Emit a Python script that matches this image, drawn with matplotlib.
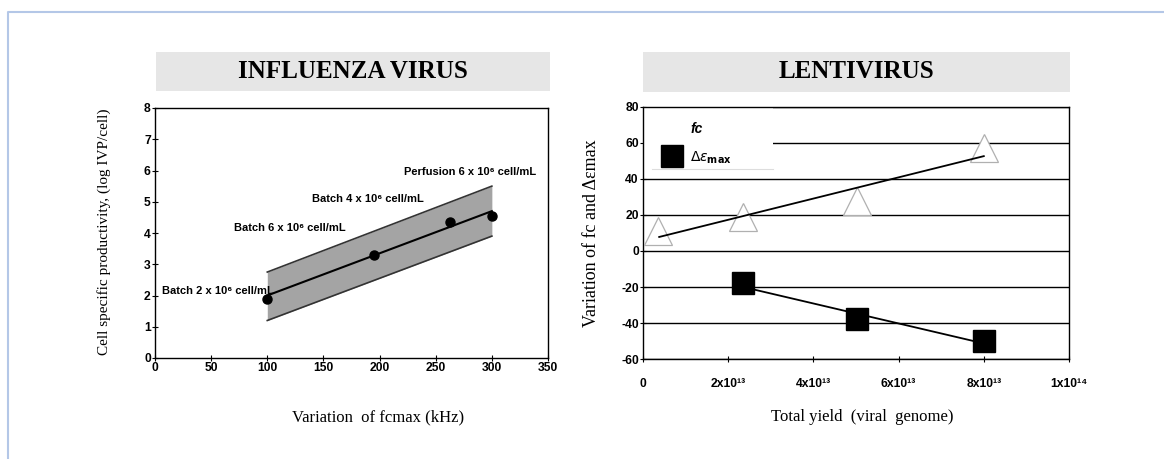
import matplotlib
matplotlib.use("Agg")
import matplotlib.pyplot as plt
from matplotlib.patches import Rectangle
from matplotlib.lines import Line2D

# influenza panel
flu_fcmax = [100, 195, 263, 300]
flu_productivity = [1.9, 3.3, 4.35, 4.55]
flu_fit_x = [100, 300]
flu_fit_y = [2.0, 4.7]
flu_upper_y = [2.75, 5.5]
flu_lower_y = [1.2, 3.9]
flu_labels = ["Batch 2 x 10⁶ cell/mL", "Batch 6 x 10⁶ cell/mL",
              "Batch 4 x 10⁶ cell/mL", "Perfusion 6 x 10⁶ cell/mL"]
flu_label_x = [6, 70, 140, 222]
flu_label_y = [2.15, 4.15, 5.1, 5.95]

# lentivirus panel
lenti_yield_fc = [0.36e13, 2.35e13, 5.03e13, 8.0e13]
lenti_fc = [11, 19, 27.5, 57]
lenti_fc_fit_x = [0.38e13, 8.0e13]
lenti_fc_fit_y = [7.8, 52.7]
lenti_yield_eps = [2.35e13, 5.03e13, 8.0e13]
lenti_eps = [-17.8, -37.6, -49.9]
lenti_eps_fit_x = [2.35e13, 7.9e13]
lenti_eps_fit_y = [-20, -50.8]
lenti_xticks = [0, 2e13, 4e13, 6e13, 8e13, 1e14]
lenti_xticklabels = ["0", "2x10¹³", "4x10¹³", "6x10¹³", "8x10¹³", "1x10¹⁴"]

W, H = 1164, 459
SANS = ["Liberation Sans", "DejaVu Sans"]
SERIF = ["Liberation Serif", "DejaVu Serif"]
plt.rcParams["axes.unicode_minus"] = False


def px_axes(fig, x0, y0, x1, y1):
    return fig.add_axes([x0 / W, 1 - y1 / H, (x1 - x0) / W, (y1 - y0) / H])


def title_box(fig, x0, y0, x1, y1, text):
    fig.patches.append(Rectangle((x0 / W, 1 - y1 / H), (x1 - x0) / W, (y1 - y0) / H,
                                 transform=fig.transFigure, facecolor="#e6e6e6",
                                 edgecolor="none"))
    fig.text((x0 + x1) / 2 / W, 1 - (y0 + y1) / 2 / H, text, ha="center", va="center",
             family=SERIF, fontweight="bold", fontsize=18)


def style_ticks(ax):
    for lab in ax.get_xticklabels() + ax.get_yticklabels():
        lab.set_family(SANS)
        lab.set_fontweight("bold")
        lab.set_fontsize(8.7)
    ax.tick_params(direction="inout", length=4, width=0.8, color="black")
    for s in ax.spines.values():
        s.set_linewidth(1.0)
        s.set_color("black")


fig = plt.figure(figsize=(W / 100, H / 100), dpi=100)

# light blue frame
fig.lines.append(Line2D([8 / W, 8 / W, 1.0], [0.0, 1 - 12 / H, 1 - 12 / H],
                        transform=fig.transFigure, color="#b4c7e7", linewidth=1.5))

title_box(fig, 156, 52, 550, 91, "INFLUENZA VIRUS")
title_box(fig, 643, 52, 1070, 92, "LENTIVIRUS")

# ---- influenza
ax1 = px_axes(fig, 155, 108, 548, 358)
ax1.fill_between(flu_fit_x, flu_lower_y, flu_upper_y, color="#a4a4a4", linewidth=0)
ax1.plot(flu_fit_x, flu_upper_y, color="#333333", linewidth=1.2)
ax1.plot(flu_fit_x, flu_lower_y, color="#333333", linewidth=1.2)
ax1.plot(flu_fit_x, flu_fit_y, color="black", linewidth=1.5)
ax1.plot(flu_fcmax, flu_productivity, "o", color="black", markersize=6.5)
for t, x, y in zip(flu_labels, flu_label_x, flu_label_y):
    ax1.text(x, y, t, family=SANS, fontweight="bold", fontsize=8, va="center")
ax1.set_xlim(0, 350)
ax1.set_ylim(0, 8)
ax1.set_xticks(range(0, 351, 50))
ax1.set_yticks(range(0, 9))
style_ticks(ax1)
ax1.tick_params(pad=1)

fig.text(104 / W, 1 - 232 / H, "Cell specific productivity, (log IVP/cell)",
         rotation=90, ha="center", va="center", family=SERIF, fontsize=11)
fig.text(378 / W, 1 - 417 / H, "Variation  of fcmax (kHz)", ha="center", va="center",
         family=SERIF, fontsize=12)

# ---- lentivirus
ax2 = px_axes(fig, 643, 107, 1069, 359)
for yv in range(-60, 81, 20):
    ax2.axhline(yv, color="black", linewidth=1.0, zorder=1)
ax2.add_patch(Rectangle((0.03e13, 45.3), 3.03e13, 34, facecolor="white",
                        edgecolor="none", zorder=2))
ax2.plot([0.2e13, 3.06e13], [45.3, 45.3], color="#dddddd", linewidth=0.8, zorder=2)
ax2.plot(lenti_yield_fc, lenti_fc, "^", markersize=20, markerfacecolor="white",
         markeredgecolor="#b0b0b0", markeredgewidth=0.9, zorder=3)
ax2.plot(lenti_fc_fit_x, lenti_fc_fit_y, color="black", linewidth=1.3, zorder=4)
ax2.plot(lenti_eps_fit_x, lenti_eps_fit_y, color="black", linewidth=1.3, zorder=4)
ax2.plot(lenti_yield_eps, lenti_eps, "s", markersize=16.5, color="black", zorder=5)
# legend
ax2.text(1.11e13, 67.6, "fc", family=SANS, fontweight="bold", fontstyle="italic",
         fontsize=10, va="center", zorder=6)
ax2.plot([0.67e13], [52.7], "s", markersize=16, color="black", zorder=6)
ax2.text(1.11e13, 51.5, r"$\Delta\varepsilon_{\mathbf{max}}$", fontsize=10, va="center", zorder=6)

ax2.set_xlim(0, 1e14)
ax2.set_ylim(-60, 80)
ax2.set_xticks(lenti_xticks)
ax2.set_xticklabels(lenti_xticklabels)
ax2.set_yticks(range(-60, 81, 20))
style_ticks(ax2)
ax2.tick_params(axis="x", pad=12)
ax2.tick_params(axis="y", pad=1)

fig.text(592 / W, 1 - 233 / H, "Variation of fc and Δεmax", rotation=90,
         ha="center", va="center", family=SERIF, fontsize=13)
fig.text(862 / W, 1 - 417 / H, "Total yield  (viral  genome)", ha="center", va="center",
         family=SERIF, fontsize=12)

fig.savefig("out.png", dpi=100)
